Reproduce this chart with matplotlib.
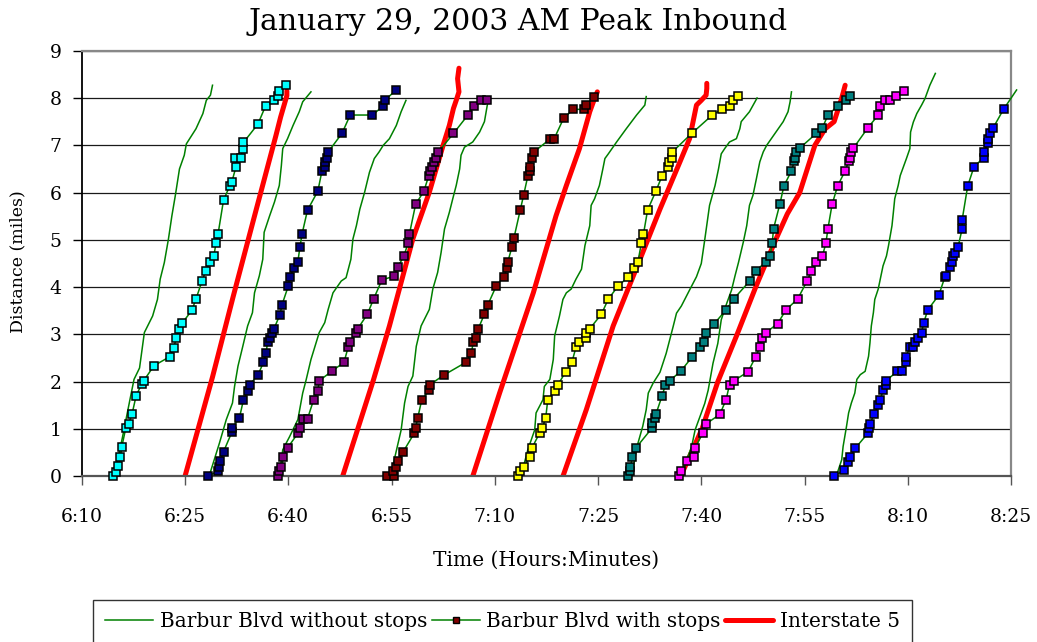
import matplotlib
matplotlib.use("Agg")
import matplotlib.pyplot as plt
from matplotlib.ticker import FixedLocator, FuncFormatter

plt.rcParams['font.family'] = ['DejaVu Serif']

# times are minutes after 6:00, distances in miles
# Barbur Blvd runs without stops (one list per run)
nostop_min = [
    [14.7, 15.9, 17.1, 17.6, 18.4, 19.1, 20.3, 21.0, 21.4, 22.0, 22.6, 23.1, 23.6, 24.2, 24.9, 25.2, 26.6, 27.6, 28.1, 28.7, 29.0],
    [28.5, 30.0, 31.0, 31.9, 32.2, 32.7, 33.4, 34.1, 34.8, 35.1, 35.8, 36.3, 36.5, 37.3, 38.0, 38.7, 39.0, 39.2, 39.9, 40.7, 41.6, 42.1, 43.3],
    [38.7, 39.2, 40.2, 41.4, 42.1, 42.6, 43.3, 44.5, 45.3, 45.8, 46.5, 47.7, 48.4, 49.1, 49.4, 49.9, 50.4, 51.1, 51.8, 52.5, 53.2, 53.8, 54.7, 55.7, 56.4, 57.1],
    [55.0, 55.4, 56.4, 56.9, 57.4, 58.1, 58.6, 59.3, 60.5, 61.0, 61.7, 62.2, 62.7, 63.4, 63.9, 64.4, 64.9, 65.1, 65.6, 66.8, 67.8, 68.5, 69.0],
    [73.8, 74.8, 75.8, 76.0, 77.0, 77.2, 78.0, 78.5, 78.7, 79.4, 79.9, 80.4, 81.1, 81.8, 82.6, 83.1, 83.8, 84.0, 84.5, 85.2, 85.7, 86.0, 86.5, 87.7, 89.1, 90.6, 91.8, 92.0],
    [90.0, 90.3, 90.8, 91.5, 92.0, 92.3, 93.0, 94.0, 94.9, 95.9, 96.4, 97.1, 98.3, 99.3, 100.0, 100.5, 101.2, 102.0, 102.5, 102.9, 103.4, 104.1, 105.1, 105.6, 105.8, 107.0, 107.8, 108.1],
    [97.0, 98.6, 99.1, 99.8, 100.5, 101.0, 101.7, 102.4, 102.9, 103.7, 104.4, 104.9, 105.4, 106.1, 106.6, 107.0, 107.5, 108.0, 108.5, 109.0, 109.5, 110.7, 111.9, 112.6, 112.9, 113.1],
    [119.6, 120.4, 120.6, 121.1, 121.4, 121.8, 122.3, 122.6, 123.1, 123.8, 124.3, 124.5, 124.7, 125.0, 125.2, 125.7, 126.0, 126.4, 126.9, 127.2, 127.7, 127.9, 128.1, 128.6, 128.9, 129.8, 130.3, 130.4, 130.8, 131.3, 132.0, 132.5, 133.2, 134.0],
]
nostop_mi = [
    [0.0, 0.81, 1.69, 2.05, 2.29, 3.04, 3.39, 3.74, 4.17, 4.52, 5.02, 5.51, 5.94, 6.50, 6.79, 7.03, 7.35, 7.67, 7.95, 8.06, 8.27],
    [0.0, 0.70, 1.20, 1.55, 1.90, 2.33, 2.75, 3.18, 3.46, 3.88, 4.24, 4.59, 5.16, 5.51, 5.80, 6.15, 6.57, 6.93, 7.14, 7.42, 7.71, 7.92, 8.13],
    [0.0, 0.56, 0.84, 1.20, 1.76, 2.04, 2.47, 3.04, 3.25, 3.53, 3.88, 4.13, 4.20, 4.59, 5.02, 5.30, 5.65, 6.01, 6.43, 6.72, 6.86, 7.00, 7.14, 7.42, 7.71, 7.95],
    [0.0, 0.35, 0.98, 1.55, 1.90, 2.12, 2.75, 3.18, 3.53, 3.96, 4.31, 4.73, 5.23, 5.58, 5.87, 6.15, 6.50, 6.79, 6.96, 7.07, 7.28, 7.50, 7.92],
    [0.0, 0.56, 0.98, 1.34, 1.62, 1.90, 2.05, 2.47, 2.97, 3.39, 3.74, 3.88, 3.96, 4.17, 4.38, 4.88, 5.30, 5.73, 5.87, 6.15, 6.50, 6.72, 6.82, 7.07, 7.35, 7.64, 7.85, 8.03],
    [0.0, 0.35, 0.70, 1.06, 1.41, 1.76, 1.97, 2.20, 2.60, 3.16, 3.45, 3.60, 3.94, 4.22, 4.50, 5.00, 5.73, 6.15, 6.50, 6.82, 6.93, 7.07, 7.14, 7.35, 7.50, 7.71, 7.92, 8.00],
    [0.0, 0.63, 0.98, 1.26, 1.54, 1.82, 2.39, 2.81, 3.31, 3.66, 3.94, 4.24, 4.52, 4.95, 5.30, 5.73, 5.94, 6.29, 6.65, 6.86, 7.00, 7.25, 7.50, 7.71, 7.92, 8.13],
    [0.0, 0.35, 0.63, 1.06, 1.34, 1.55, 1.76, 2.05, 2.15, 2.22, 2.54, 2.82, 3.18, 3.46, 3.74, 3.96, 4.17, 4.45, 4.66, 4.88, 5.30, 5.58, 5.87, 6.15, 6.36, 6.72, 6.93, 7.28, 7.49, 7.67, 7.85, 7.99, 8.27, 8.52],
]

# Barbur Blvd runs with stops (one list per bus run)
stops_min = [
    [14.6, 15.0, 15.3, 15.6, 15.8, 16.4, 16.8, 17.3, 17.9, 18.7, 19.0, 20.5, 22.8, 23.4, 23.7, 24.2, 24.6, 26.0, 26.6, 27.5, 28.0, 28.6, 29.2, 29.5, 29.8, 30.6, 31.5, 31.8, 32.4, 32.3, 33.1, 33.4, 33.5, 35.6, 36.7, 37.9, 38.5, 38.7, 39.7],
    [28.3, 29.8, 29.9, 30.1, 30.6, 31.8, 31.8, 32.9, 33.5, 34.2, 34.4, 35.6, 36.4, 36.8, 37.0, 37.4, 37.7, 37.9, 38.8, 39.1, 40.0, 40.2, 40.9, 41.4, 41.7, 42.0, 42.8, 44.3, 44.9, 45.3, 45.4, 45.6, 45.8, 47.8, 49.0, 52.2, 53.8, 54.1, 55.6],
    [38.5, 38.7, 39.0, 39.3, 39.9, 41.4, 41.7, 42.2, 42.8, 43.7, 44.3, 44.5, 46.3, 48.1, 48.7, 48.9, 49.9, 50.1, 51.5, 52.4, 53.6, 55.3, 55.9, 56.8, 57.4, 57.6, 58.5, 59.7, 60.4, 60.6, 60.9, 61.2, 61.4, 61.8, 64.0, 66.1, 67.0, 68.0, 68.8],
    [54.4, 55.3, 55.2, 55.6, 55.9, 56.7, 58.3, 58.5, 58.8, 59.4, 60.5, 60.6, 62.6, 65.8, 66.6, 66.9, 67.3, 67.6, 68.5, 69.0, 70.2, 71.3, 71.8, 71.9, 72.5, 72.8, 73.7, 74.2, 74.8, 75.1, 75.1, 75.4, 75.7, 78.0, 78.6, 80.0, 81.4, 83.0, 83.3, 84.4],
    [73.4, 73.6, 74.2, 75.1, 75.4, 76.5, 76.9, 77.4, 77.7, 78.8, 79.2, 80.3, 81.2, 81.8, 82.3, 83.2, 83.3, 83.8, 85.5, 86.5, 87.9, 89.4, 90.2, 90.8, 91.3, 91.6, 92.2, 93.4, 94.3, 95.1, 95.3, 95.7, 95.8, 98.6, 101.6, 103.0, 104.1, 104.6, 105.4],
    [89.4, 89.6, 89.7, 90.0, 90.5, 92.9, 92.9, 93.3, 93.4, 94.3, 94.8, 95.4, 97.0, 98.7, 99.8, 100.4, 100.7, 101.9, 103.6, 104.7, 107.1, 107.9, 109.4, 110.0, 110.3, 110.5, 111.4, 112.0, 113.1, 113.5, 113.6, 113.7, 114.3, 116.7, 117.6, 118.4, 119.8, 121.0, 121.6],
    [96.8, 97.1, 97.9, 98.9, 99.1, 100.2, 100.7, 102.7, 103.6, 104.1, 104.7, 106.8, 107.9, 108.5, 108.8, 109.4, 111.1, 112.3, 114.0, 115.4, 116.0, 116.7, 117.6, 118.1, 118.4, 119.0, 119.8, 120.9, 121.4, 121.6, 121.8, 122.1, 124.2, 125.7, 126.0, 126.7, 127.4, 128.3, 129.4],
    [119.3, 120.7, 121.3, 121.6, 122.4, 124.2, 124.3, 124.5, 125.1, 125.7, 126.0, 126.4, 126.8, 126.8, 128.5, 129.1, 129.7, 129.7, 130.3, 130.7, 131.1, 131.5, 132.0, 132.3, 132.9, 134.5, 135.4, 135.6, 136.1, 136.4, 136.6, 136.9, 137.3, 137.9, 137.9, 138.7, 139.6, 141.0, 141.1, 141.6, 141.6, 142.0, 142.4, 143.9, 145.8],
]
stops_mi = [
    [0.0, 0.10, 0.21, 0.40, 0.61, 1.02, 1.11, 1.31, 1.70, 1.95, 2.02, 2.34, 2.53, 2.72, 2.92, 3.12, 3.24, 3.51, 3.75, 4.14, 4.34, 4.54, 4.66, 4.93, 5.12, 5.84, 6.14, 6.22, 6.54, 6.73, 6.73, 6.93, 7.06, 7.45, 7.83, 7.96, 8.04, 8.15, 8.27],
    [0.0, 0.11, 0.20, 0.32, 0.52, 0.93, 1.02, 1.23, 1.62, 1.81, 1.94, 2.14, 2.41, 2.61, 2.85, 2.93, 3.04, 3.11, 3.42, 3.63, 4.02, 4.22, 4.41, 4.54, 4.85, 5.12, 5.63, 6.03, 6.46, 6.54, 6.64, 6.74, 6.86, 7.25, 7.64, 7.64, 7.83, 7.96, 8.16],
    [0.0, 0.12, 0.20, 0.40, 0.60, 0.91, 1.03, 1.22, 1.22, 1.62, 1.81, 2.02, 2.22, 2.41, 2.73, 2.84, 3.04, 3.12, 3.43, 3.75, 4.15, 4.23, 4.42, 4.66, 4.93, 5.12, 5.75, 6.03, 6.35, 6.45, 6.54, 6.65, 6.74, 6.86, 7.25, 7.64, 7.83, 7.96, 7.96],
    [0.0, 0.0, 0.12, 0.20, 0.32, 0.52, 0.91, 1.02, 1.23, 1.62, 1.82, 1.94, 2.14, 2.41, 2.61, 2.85, 2.93, 3.12, 3.43, 3.63, 4.02, 4.22, 4.41, 4.54, 4.85, 5.05, 5.63, 5.95, 6.35, 6.46, 6.55, 6.74, 6.86, 7.13, 7.13, 7.57, 7.76, 7.76, 7.85, 8.03],
    [0.0, 0.11, 0.20, 0.40, 0.60, 0.91, 1.02, 1.23, 1.62, 1.81, 1.94, 2.21, 2.41, 2.73, 2.85, 2.93, 3.04, 3.12, 3.43, 3.75, 4.02, 4.22, 4.41, 4.54, 4.93, 5.12, 5.63, 6.03, 6.35, 6.54, 6.64, 6.74, 6.86, 7.25, 7.64, 7.76, 7.83, 7.96, 8.04],
    [0.0, 0.12, 0.20, 0.40, 0.60, 1.03, 1.12, 1.23, 1.31, 1.70, 1.94, 2.02, 2.22, 2.53, 2.74, 2.84, 3.04, 3.23, 3.52, 3.75, 4.14, 4.34, 4.54, 4.66, 4.93, 5.24, 5.75, 6.14, 6.46, 6.66, 6.74, 6.86, 6.94, 7.25, 7.37, 7.64, 7.83, 7.95, 8.04],
    [0.0, 0.12, 0.33, 0.40, 0.60, 0.91, 1.11, 1.31, 1.62, 1.94, 2.02, 2.21, 2.53, 2.73, 2.92, 3.04, 3.23, 3.52, 3.75, 4.14, 4.34, 4.54, 4.66, 4.93, 5.24, 5.75, 6.14, 6.46, 6.66, 6.74, 6.86, 6.94, 7.37, 7.64, 7.83, 7.96, 7.96, 8.04, 8.15],
    [0.0, 0.13, 0.31, 0.40, 0.60, 0.91, 1.02, 1.11, 1.31, 1.50, 1.62, 1.82, 1.94, 2.02, 2.22, 2.22, 2.41, 2.53, 2.73, 2.74, 2.85, 2.92, 3.04, 3.24, 3.52, 3.83, 4.22, 4.23, 4.42, 4.54, 4.65, 4.73, 4.85, 5.24, 5.43, 6.14, 6.54, 6.74, 6.86, 7.04, 7.13, 7.25, 7.37, 7.76, 8.17],
]

# Interstate 5 runs
i5_min = [
    [25.0, 29.0, 32.0, 35.0, 38.2, 38.9, 39.5, 39.8, 39.8],
    [47.9, 52.4, 54.7, 58.1, 60.5, 62.5, 63.4, 64.0, 64.4, 64.8, 64.6, 64.8],
    [66.8, 70.7, 75.6, 78.9, 80.4, 82.3, 83.8, 84.5, 84.9],
    [79.9, 83.3, 87.2, 91.1, 94.0, 96.9, 98.3, 99.3, 100.0, 100.7, 100.8, 100.8],
    [97.0, 100.1, 102.4, 105.2, 107.9, 110.8, 112.5, 114.3, 116.5, 118.0, 119.3, 120.4, 120.9],
]
i5_mi = [
    [0.0, 2.1, 3.8, 5.45, 7.2, 7.6, 7.9, 8.05, 8.15],
    [0.0, 2.05, 3.18, 5.02, 6.01, 7.0, 7.42, 7.78, 7.95, 8.13, 8.41, 8.63],
    [0.0, 1.76, 3.88, 5.51, 6.15, 6.93, 7.71, 7.99, 8.13],
    [0.0, 1.41, 3.18, 4.59, 5.65, 6.65, 7.14, 7.85, 7.95, 8.06, 8.2, 8.31],
    [0.0, 1.0, 2.0, 3.0, 4.0, 5.0, 5.55, 6.0, 7.0, 7.35, 7.5, 8.0, 8.27],
]

tick_minutes = [10, 25, 40, 55, 70, 85, 100, 115, 130, 145]
legend_labels = ["Barbur Blvd without stops", "Barbur Blvd with stops", "Interstate 5"]

# marker fill for each with-stops run
run_colors = ['#00FFFF', '#000080', '#800080', '#800000', '#FFFF00', '#008080', '#FF00FF', '#0000FF']

GREEN = '#008000'

fig = plt.figure(figsize=(10.37, 6.42), dpi=100)
ax = fig.add_axes([0.0788, 0.2581, 0.975 - 0.0788, 0.921 - 0.2581])

# interstate first so markers sit on top
for k, (t, d) in enumerate(zip(i5_min, i5_mi)):
    ax.plot(t, d, color='#FF0000', lw=3.6, solid_capstyle='round',
            solid_joinstyle='round', zorder=2,
            label=legend_labels[2] if k == 0 else None)

for k, (t, d) in enumerate(zip(nostop_min, nostop_mi)):
    ax.plot(t, d, color=GREEN, lw=1.1, zorder=3,
            label=legend_labels[0] if k == 0 else None)

for k, (t, d) in enumerate(zip(stops_min, stops_mi)):
    # the last run spills past the right edge; Excel drew the line but not the marker
    inside = [tt <= 145 for tt in t]
    ax.plot(t, d, color=GREEN, lw=1.1, marker='s', markersize=5.5,
            markerfacecolor=run_colors[k], markeredgecolor='black',
            markeredgewidth=1.1, markevery=inside, clip_on=False, zorder=4)

ax.set_xlim(10, 145)
ax.set_ylim(0, 9)
ax.xaxis.set_major_locator(FixedLocator(tick_minutes))
ax.xaxis.set_major_formatter(FuncFormatter(lambda m, p: f"{6 + int(m) // 60}:{int(m) % 60:02d}"))
ax.set_yticks(range(10))

ax.yaxis.grid(True, color='#1a1a1a', lw=0.9)
ax.set_axisbelow(True)

ax.spines['left'].set_color('black')
ax.spines['left'].set_linewidth(1.3)
ax.spines['bottom'].set_color('#555555')
ax.spines['bottom'].set_linewidth(1.6)
for s in ('top', 'right'):
    ax.spines[s].set_color('#888888')
    ax.spines[s].set_linewidth(1.6)

ax.tick_params(axis='x', direction='out', length=6.5, width=1, color='#555555',
               pad=16, labelsize=13.5)
ax.tick_params(axis='y', direction='out', length=6.5, width=1, color='black',
               pad=8, labelsize=13.5)

fig.text(0.4995, 1 - 22 / 642, "January 29, 2003 AM Peak Inbound",
         ha='center', va='center', fontsize=21.5)
fig.text(546.4 / 1037, 1 - 560 / 642, "Time (Hours:Minutes)",
         ha='center', va='center', fontsize=14.5)
fig.text(18 / 1037, 1 - 261.5 / 642, "Distance (miles)",
         ha='center', va='center', rotation=90, fontsize=12.5)

# legend entry for the with-stops runs uses a maroon marker
stop_handle, = ax.plot([], [], color=GREEN, lw=1.1, marker='s', markersize=4,
                       markerfacecolor='#800000', markeredgecolor='black',
                       markeredgewidth=1.0)
h, l = ax.get_legend_handles_labels()
handles = [h[l.index(legend_labels[0])], stop_handle, h[l.index(legend_labels[2])]]
leg = fig.legend(handles, legend_labels, ncol=3, loc='center',
                 bbox_to_anchor=(502.5 / 1037, 1 - 621.5 / 642),
                 fontsize=14.4, frameon=True, fancybox=False, handlelength=2.4,
                 handletextpad=0.35, columnspacing=0.2, borderpad=0.6,
                 borderaxespad=0)
leg.get_frame().set_edgecolor('black')
leg.get_frame().set_linewidth(1.0)

fig.savefig("out.png", dpi=100)
